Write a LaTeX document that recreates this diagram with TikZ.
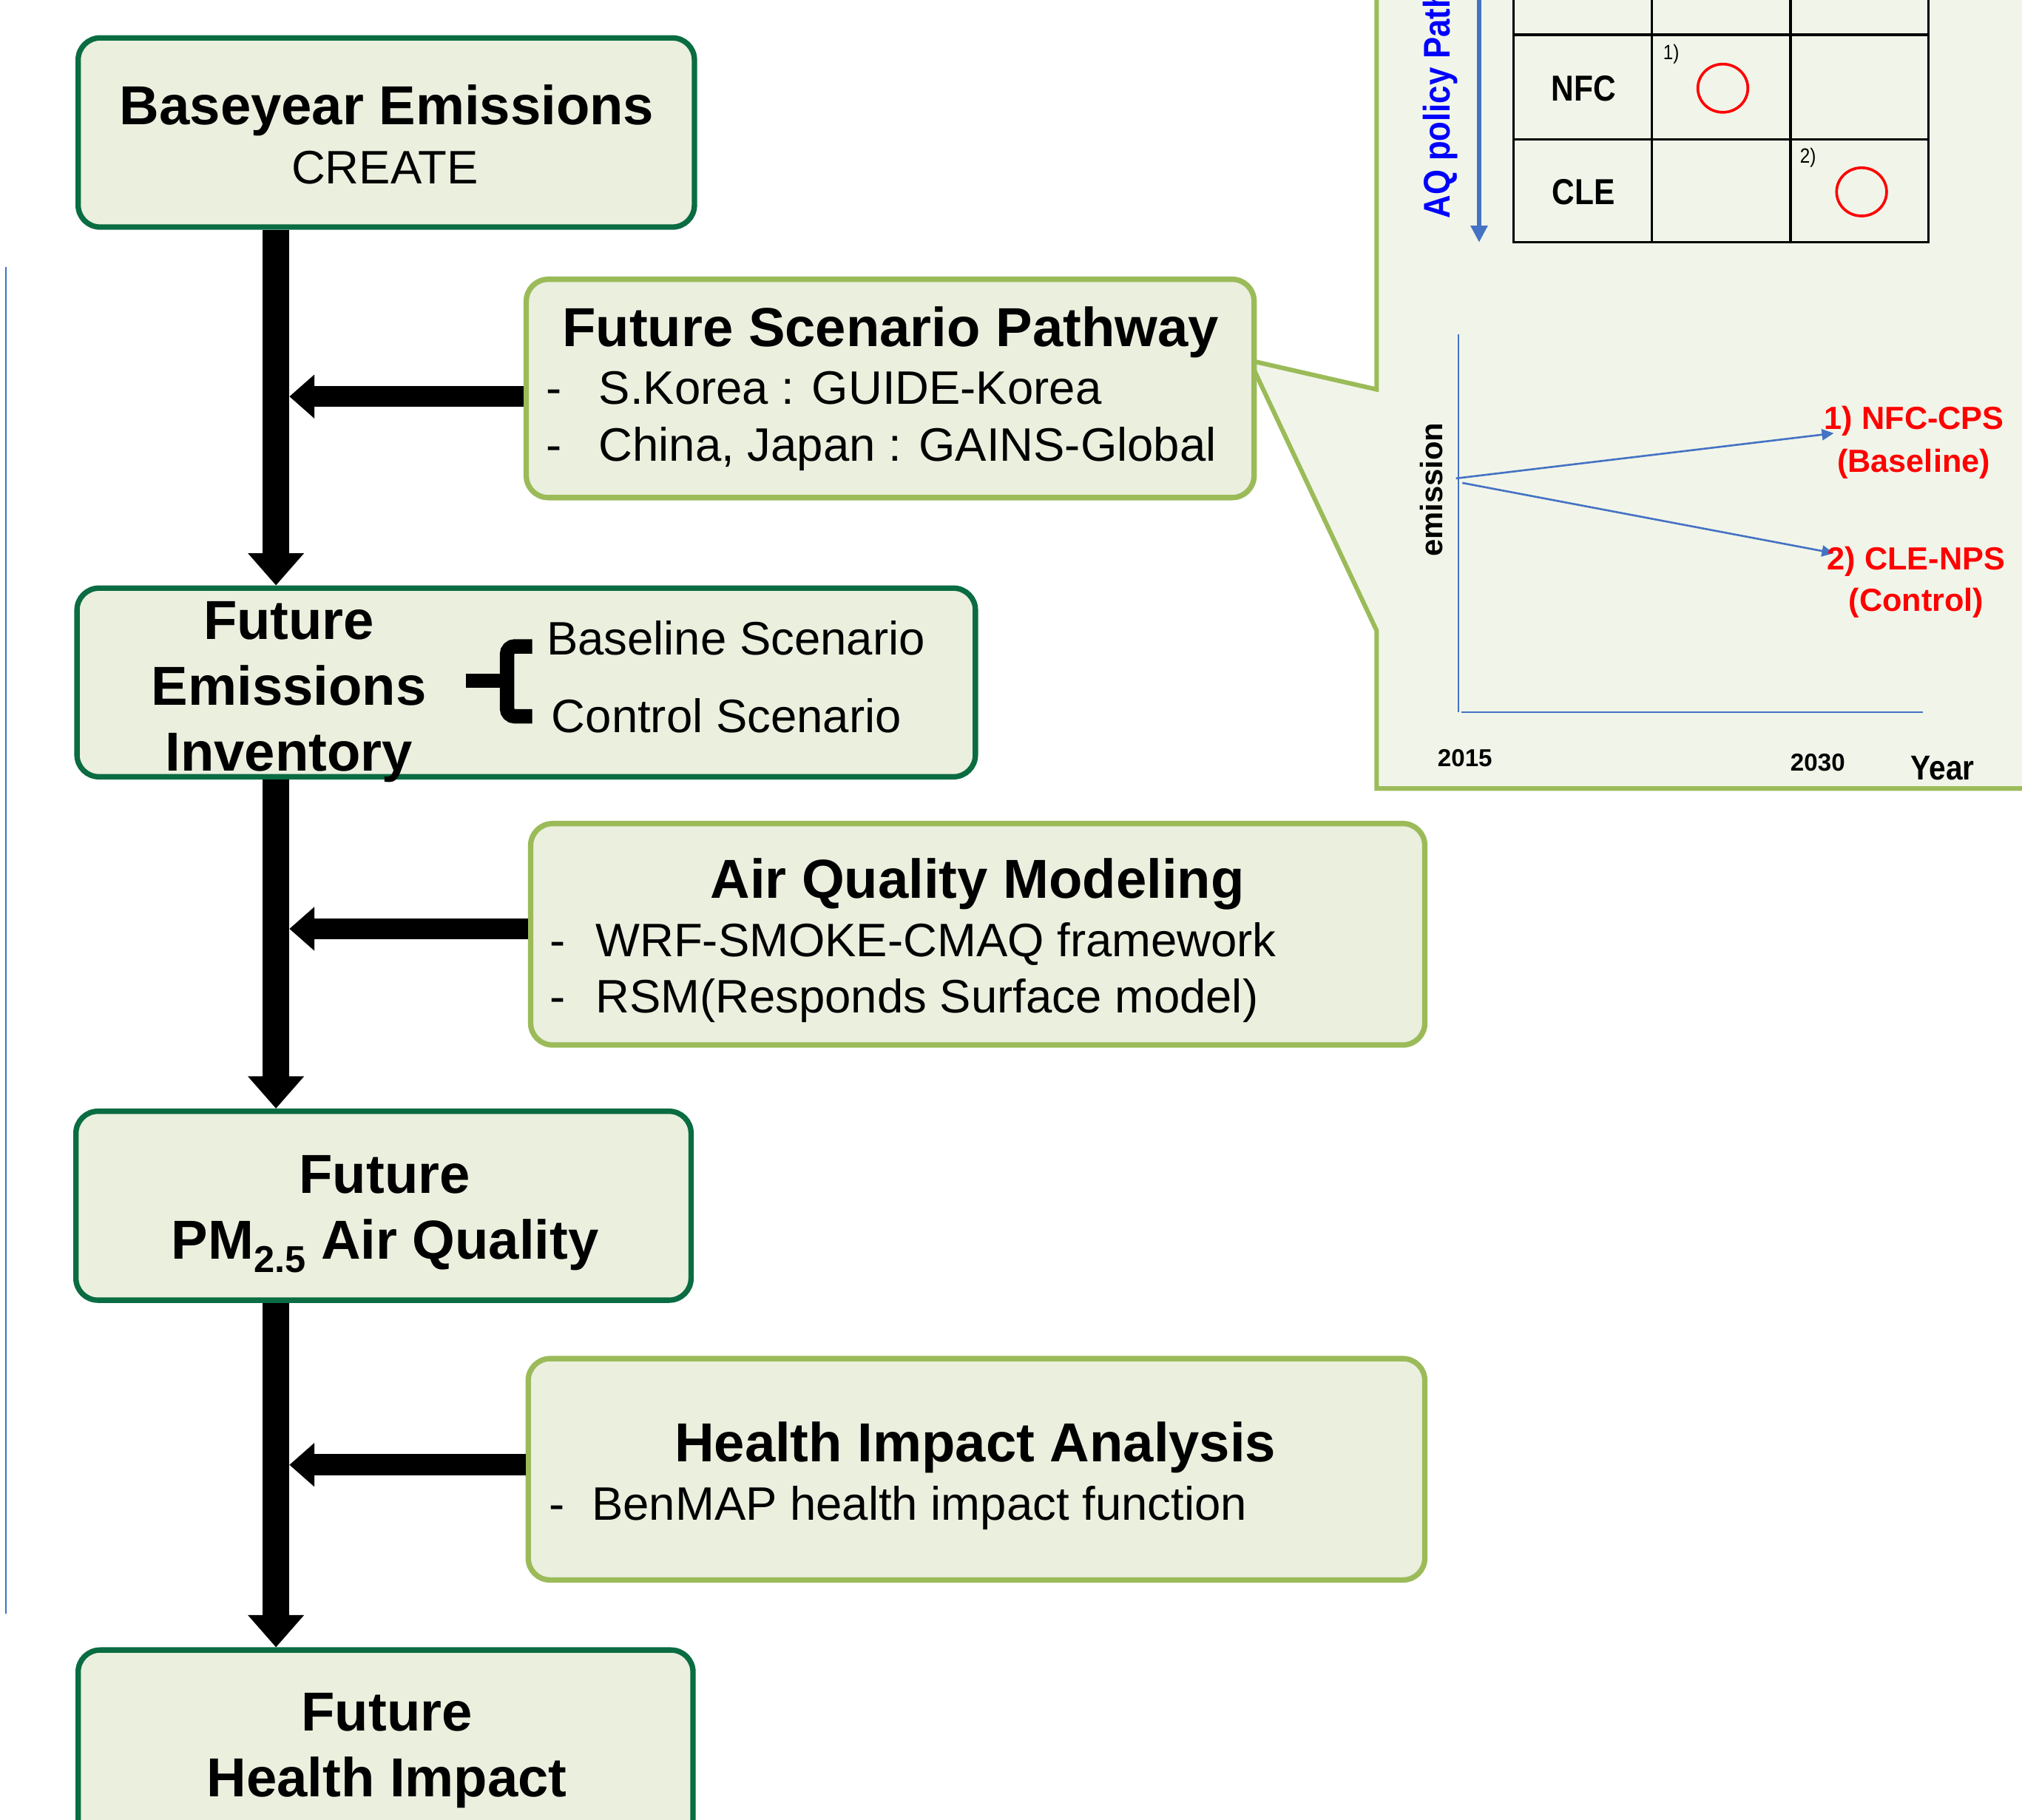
\documentclass[tikz,border=0pt]{standalone}
\usepackage{fontspec}
\setmainfont{Liberation Sans}
\newfontfamily\narrowfont{Liberation Sans}[FakeStretch=0.87]
\usetikzlibrary{arrows.meta,fit,shapes.geometric}
\definecolor{dkgreen}{RGB}{10,108,66}
\definecolor{ltgreen}{RGB}{155,187,89}
\definecolor{boxfill}{RGB}{235,239,222}
\definecolor{panelfill}{RGB}{241,245,233}
\definecolor{axisblue}{RGB}{68,114,196}
\definecolor{aqblue}{RGB}{0,0,255}
\definecolor{lblred}{RGB}{255,0,0}
\begin{document}
\begin{tikzpicture}[x=0.5pt,y=-0.5pt,
  mainbox/.style={draw=dkgreen, line width=2.1pt, fill=boxfill, rounded corners=8.5pt, inner sep=0pt},
  subbox/.style={draw=ltgreen, line width=2.1pt, fill=boxfill, rounded corners=8.5pt, inner sep=0pt},
  ttl/.style={font=\fontsize{21.3}{25}\selectfont\bfseries, inner sep=0pt, anchor=base},
  txt/.style={font=\fontsize{18.2}{22}\selectfont, inner sep=0pt, anchor=base},
  txtw/.style={txt, anchor=base west},
  varrow/.style={line width=10.35pt, -{Triangle[width=21pt,length=12.5pt]}},
  harrow/.style={line width=8.2pt, -{Triangle[width=16.4pt,length=9.7pt]}},
  panel/.style={fill=panelfill, draw=ltgreen, line width=1.75pt, line join=miter},
  tblline/.style={draw=black, line width=0.9pt},
  tbltxt/.style={font=\narrowfont\bfseries\fontsize{14}{16}\selectfont, inner sep=0pt, anchor=base},
  marktxt/.style={font=\narrowfont\fontsize{8}{9}\selectfont, inner sep=0pt, anchor=base west},
  redcirc/.style={ellipse, draw=lblred, line width=1.05pt, minimum width=19.4pt, minimum height=18.7pt, inner sep=0pt},
  aqarrow/.style={draw=axisblue, line width=1.6pt, -{Triangle[width=6.3pt,length=6.5pt]}},
  axisline/.style={draw=axisblue, line width=0.5pt},
  chartarrow/.style={draw=axisblue, line width=0.75pt, -{Triangle[width=4.3pt,length=4.6pt]}},
  redlbl/.style={font=\bfseries\fontsize{12.4}{14}\selectfont, text=lblred, inner sep=0pt, anchor=base},
  axlbl/.style={font=\bfseries\fontsize{9.5}{11}\selectfont, inner sep=0pt, anchor=base},
]
\useasboundingbox (0,0) rectangle (1568,1411);
\clip (0,0) rectangle (1568,1411);

% ---------- callout panel ----------
\draw[panel] (1067.5,-20) -- (1067.5,302) -- (969,279.5) -- (1067.5,489) -- (1067.5,611.5) -- (1600,611.5) -- (1600,-20) -- cycle;

% table
\draw[tblline] (1173.5,-10) -- (1173.5,188) -- (1495.5,188) -- (1495.5,-10);
\draw[tblline] (1281,-10) -- (1281,188);
\draw[tblline] (1388.5,-10) -- (1388.5,188);
\draw[tblline] (1173.5,27) -- (1495.5,27);
\draw[tblline] (1173.5,108) -- (1495.5,108);
\node (nfc) [tbltxt] at (1228,78.5) {NFC};
\node (cle) [tbltxt] at (1228,158.8) {CLE};
\node (m1) [marktxt] at (1289.3,46) {1)};
\node (m2) [marktxt] at (1395.4,126.5) {2)};
\node (c1) [redcirc] at (1336,68.4) {};
\node (c2) [redcirc] at (1443.6,148.8) {};

% AQ policy arrow
\coordinate (aqtop) at (1147,-10);
\coordinate (aqbot) at (1147,188);
\draw[aqarrow] (aqtop) -- (aqbot);
\node (aqlbl) [rotate=90, anchor=base west, inner sep=0pt, text=aqblue, font=\narrowfont\bfseries\fontsize{14.4}{16}\selectfont] at (1124.1,169.9) {AQ policy Path};

% chart
\coordinate (yax1) at (1131,259);
\coordinate (yax0) at (1131,552.5);
\coordinate (xax0) at (1133,552.5);
\coordinate (xax1) at (1491,552.5);
\draw[axisline] (yax1) -- (yax0);
\draw[axisline] (xax0) -- (xax1);
\coordinate (o1) at (1129,371);
\coordinate (o2) at (1134,374.5);
\coordinate (t1) at (1422,336);
\coordinate (t2) at (1422,429);
\draw[chartarrow] (o1) -- (t1);
\draw[chartarrow] (o2) -- (t2);
\node (emis) [rotate=90, anchor=base, inner sep=0pt, font=\bfseries\fontsize{12}{14}\selectfont] at (1118.8,379.8) {emission};
\node (l1a) [redlbl] at (1484.4,333) {1) NFC-CPS};
\node (l1b) [redlbl] at (1484,366.3) {(Baseline)};
\node (l2a) [redlbl] at (1486,441.9) {2) CLE-NPS};
\node (l2b) [redlbl] at (1486,474.3) {(Control)};
\node (y2015) [axlbl] at (1136,594.2) {2015};
\node (y2030) [axlbl] at (1409.6,598) {2030};
\node (year) [inner sep=0pt, anchor=base, font=\narrowfont\bfseries\fontsize{13.4}{15}\selectfont] at (1506.5,604.5) {Year};

% ---------- thin blue line at left ----------
\coordinate (bl1) at (4.7,206.8);
\coordinate (bl2) at (4.7,1251.6);
\draw[draw=axisblue, line width=0.6pt] (bl1) -- (bl2);

% ---------- boxes ----------
\node (b1)  [mainbox, fit={(60.6,29.4) (538.5,176.1)}] {};
\node (fsp) [subbox,  fit={(408.1,216.6) (972.5,385.9)}] {};
\node (fei) [mainbox, fit={(59.7,456.1) (756.4,602.4)}] {};
\node (aqm) [subbox,  fit={(411.5,638.7) (1104.9,810.4)}] {};
\node (pm)  [mainbox, fit={(58.9,861.8) (535.9,1008.3)}] {};
\node (hia) [subbox,  fit={(409.6,1053.6) (1104.9,1225.3)}] {};
\node (fhi) [mainbox, fit={(60.6,1279.6) (537.4,1470)}] {};

% ---------- arrows ----------
\coordinate (sp) at (214,0);
\coordinate (spr) at (224.4,0);
\coordinate (h1) at (0,307.5);
\coordinate (h2) at (0,720.3);
\coordinate (h3) at (0,1136);
\draw[varrow] (b1.south -| sp) -- (fei.north -| sp);
\draw[varrow] (fei.south -| sp) -- (pm.north -| sp);
\draw[varrow] (pm.south -| sp) -- (fhi.north -| sp);
\draw[harrow] (fsp.west |- h1) -- (spr |- h1);
\draw[harrow] (aqm.west |- h2) -- (spr |- h2);
\draw[harrow] (hia.west |- h3) -- (spr |- h3);

% ---------- texts ----------
\node (b1t) [ttl] at (300,96.5) {Baseyear Emissions};
\node (b1s) [txt] at (298.5,142.4) {CREATE};

\node (fspt) [ttl] at (690.6,268.6) {Future Scenario Pathway};
\node (fspd1) [txtw] at (423,313.5) {-};
\node (fspl1) [txtw] at (464,313.5) {S.Korea : GUIDE-Korea};
\node (fspd2) [txtw] at (423,357.5) {-};
\node (fspl2) [txtw] at (464,357.5) {China, Japan : GAINS-Global};

\node (feit1) [ttl] at (224,495.9) {Future};
\node (feit2) [ttl] at (224,546.8) {Emissions};
\node (feit3) [ttl] at (224,598.1) {Inventory};
\draw[line width=5.6pt, rounded corners=3pt] (412.7,501.3) -- (393.2,501.3) -- (393.2,555.5) -- (412.7,555.5);
\draw[line width=5.5pt] (361.1,527.8) -- (393.2,527.8);
\node (basesc) [txtw] at (423.5,508.1) {Baseline Scenario};
\node (ctrlsc) [txtw] at (427.4,568.2) {Control Scenario};

\node (aqmt) [ttl] at (757.9,696.8) {Air Quality Modeling};
\node (aqmd1) [txtw] at (426.2,741.8) {-};
\node (aqml1) [txtw] at (461.5,741.8) {WRF-SMOKE-CMAQ framework};
\node (aqmd2) [txtw] at (426.2,785.7) {-};
\node (aqml2) [txtw] at (461.5,785.7) {RSM(Responds Surface model)};

\node (pmt1) [ttl] at (298.3,925.3) {Future};
\node (pmt2) [ttl] at (298.6,976.5) {PM\raisebox{-5pt}{\fontsize{14.5}{15}\selectfont 2.5} Air Quality};

\node (hiat) [ttl] at (756.3,1133.3) {Health Impact Analysis};
\node (hiad1) [txtw] at (425.3,1178.6) {-};
\node (hial1) [txtw] at (458.6,1178.6) {BenMAP health impact function};

\node (fhit1) [ttl] at (300,1342.5) {Future};
\node (fhit2) [ttl] at (300,1393.4) {Health Impact};
\end{tikzpicture}
\end{document}
